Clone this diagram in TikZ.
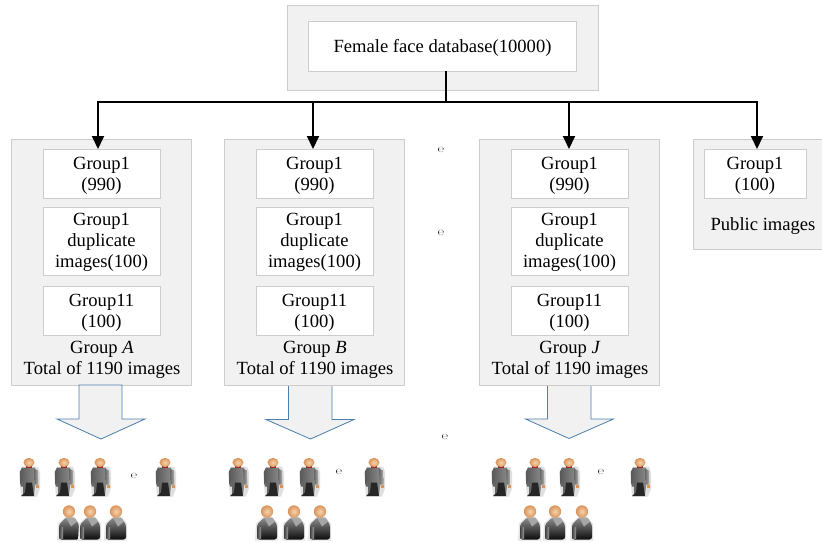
\documentclass[tikz,border=0pt]{standalone}
\usepackage{fontspec}
\setmainfont{Liberation Serif}
\newfontfamily\markfont{DejaVu Sans}
\usetikzlibrary{arrows.meta,calc}
\definecolor{panelgray}{HTML}{F1F1F1}
\definecolor{edgegray}{HTML}{CDCDCD}
\definecolor{blockblue}{HTML}{4A7EAE}
\definecolor{skinlight}{HTML}{F6D3AE}
\definecolor{skindark}{HTML}{D9945A}
\newcommand{\firstline}{\rule{0pt}{16pt}}
\tikzset{
  x=1pt,y=-1pt,
  panel/.style={draw=edgegray,line width=0.9pt,fill=panelgray,minimum width=#1,anchor=north west,inner sep=0pt,outer sep=0pt},
  itembox/.style={draw=edgegray,line width=0.9pt,fill=white,anchor=north west,inner sep=0pt,outer sep=0pt,align=center,font=\fontsize{18.6pt}{21pt}\selectfont},
  caption/.style={inner sep=0pt,align=center,font=\fontsize{18.6pt}{21pt}\selectfont},
  feed/.style={line width=1.9pt,black},
  feedarrow/.style={feed,-{Triangle[length=13pt,width=12pt]}},
  blockarrow/.style={draw=blockblue,line width=0.8pt,fill=panelgray,line join=miter},
  para/.style={inner sep=0pt,font=\markfont\fontsize{8pt}{8pt}\selectfont,text=black!85},
  pics/standing/.style={code={
    \fill[black!12] (-7,4) -- (9,4) -- (11,10) -- (11,26) -- (8,34) -- (-8,34) -- (-10,10) -- cycle;
    \shade[left color=black!65,right color=black!45] (-7,5) -- (6,5) -- (7,12) -- (6,24) -- (5,33) -- (-6,33) -- (-6,24) -- (-9,21) -- (-9,9) -- cycle;
    \fill[black!85] (-3,20) -- (3,20) -- (5,33.5) -- (-8,33.5) -- (-4,30) -- cycle;
    \shade[left color=black!60,right color=black!30] (5,6) -- (9,8) -- (9.5,22) -- (6,22) -- cycle;
    \fill[skindark] (6.5,22) rectangle (9.5,25);
    \fill[black!60] (-9,20) -- (-6,20) -- (-6,24) -- (-8,24) -- cycle;
    \fill[red!55!black!85] (-3,3) rectangle (3,5.5);
    \shade[inner color=skinlight,outer color=skindark] (0,0) ellipse (5.6 and 4.6);
  }},
  pics/seated/.style={code={
    \fill[black!10] (-12,29) -- (-11,12) -- (-3,5) -- (5,5) -- (11,12) -- (11,29) -- cycle;
    \shade[top color=black!45,bottom color=black!95,rounded corners=2.5pt] (-10,28) -- (-10,13) -- (-3,6) -- (5,6) -- (10,13) -- (10,28) -- cycle;
    \fill[black!35] (-3,6) -- (5,6) -- (8,10) -- (2,15) -- cycle;
    \shade[left color=black!70,right color=black!40] (-9.5,16) rectangle (-6,27);
    \shade[inner color=skinlight,outer color=skindark] (0,0) circle (6.2);
  }},
}
\newcommand{\groupcol}[3]{% prefix, outer left, letter
  \node[panel=180.5pt,minimum height=246pt] (#1outer) at (#2,139) {};
  \node[itembox,minimum width=117pt,minimum height=49pt] (#1one) at (#2+32,149) {\firstline Group1\\(990)};
  \node[itembox,minimum width=117pt,minimum height=68pt] (#1dup) at (#2+32,207) {\firstline Group1\\duplicate\\images(100)};
  \node[itembox,minimum width=117pt,minimum height=49pt] (#1ele) at (#2+32,286) {\firstline Group11\\(100)};
  \node[caption] (#1cap) at (#2+91,360) {Group \textit{#3}\\Total of 1190 images};
}
\begin{document}
\begin{tikzpicture}
\clip (0,0) rectangle (822,543);
\fill[white] (0,0) rectangle (822,543);
% top
\node[panel=311pt,minimum height=85pt] (topouter) at (287,5.5) {};
\node[itembox,minimum width=268pt,minimum height=50pt] (top) at (308.5,21.5) {\firstline Female face database(10000)};
% columns
\groupcol{a}{11}{A}
\groupcol{b}{224}{B}
\groupcol{j}{479}{J}
\node[panel=135pt,minimum height=110pt] (pubouter) at (693,139) {};
\node[itembox,minimum width=102pt,minimum height=49pt] (pub) at (704,149) {\firstline Group1\\(100)};
\node[caption] (pubcap) at (763,226.5) {Public images};
% feeds
\coordinate (bus) at (446,102);
\coordinate (busa) at (98,102);
\coordinate (busb) at (313,102);
\coordinate (busj) at (569,102);
\coordinate (busp) at (757,102);
\draw[feed] (top.south -| bus) -- (bus);
\draw[feed,line cap=rect] (busa) -- (busp);
\draw[feedarrow] (busa) -- (aone.north -| busa);
\draw[feedarrow] (busb) -- (bone.north -| busb);
\draw[feedarrow] (busj) -- (jone.north -| busj);
\draw[feedarrow] (busp) -- (pub.north -| busp);
% block arrows
\draw[blockarrow] (79,385) -- (79,419) -- (57,419) -- (101,439) -- (145,419) -- (122,419) -- (122,385) -- cycle;
\draw[blockarrow] (288.5,386) -- (288.5,419.5) -- (266,419.5) -- (310.5,439) -- (354,419.5) -- (332,419.5) -- (332,386);
\draw[blockarrow] (547.5,386) -- (547.5,419) -- (525.5,419) -- (569,438.5) -- (613.5,419) -- (591,419) -- (591,386);
% people
\foreach \px in {29,64,100,165,238,273,309,374,501,535,569,640}
  \pic at (\px,462.5) {standing};
\foreach \px in {69,90,116,267,294,320,530,555,582}
  \pic at (\px,511.5) {seated};
% paragraph marks
\foreach \mx/\my/\mn in {441/150/m1,441/233/m2,445/437/m3,134/476/m4,339/472/m5,601/472/m6}
  \node[para] (\mn) at (\mx,\my) {℮};
\end{tikzpicture}
\end{document}
